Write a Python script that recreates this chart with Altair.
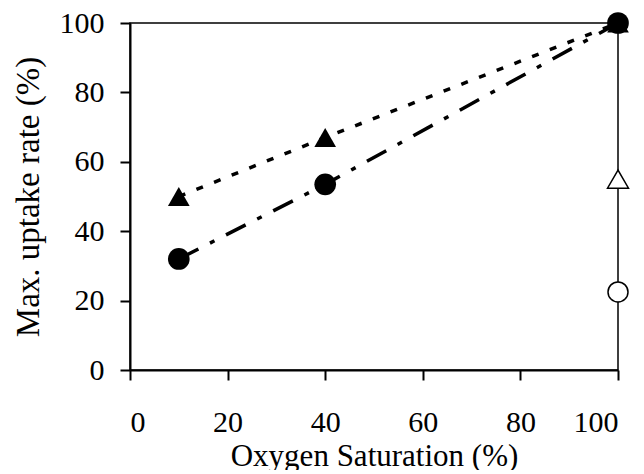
import altair as alt
import pandas as pd

# Data
oxygen = [10, 40, 100]
filled_triangle = [50, 67, 100]
filled_circle = [32, 53.5, 100]
open_oxygen = [100]
open_triangle = [55]
open_circle = [22.5]
x_ticks = [0, 20, 40, 60, 80, 100]
y_ticks = [0, 20, 40, 60, 80, 100]

rows = []
for x, y in zip(oxygen, filled_triangle):
    rows.append({"series": "tri", "x": x, "y": y})
for x, y in zip(oxygen, filled_circle):
    rows.append({"series": "circ", "x": x, "y": y})
for x, y in zip(open_oxygen, open_triangle):
    rows.append({"series": "otri", "x": x, "y": y})
for x, y in zip(open_oxygen, open_circle):
    rows.append({"series": "ocirc", "x": x, "y": y})
df = pd.DataFrame(rows)

FONT = "Liberation Serif"

x_enc = alt.X(
    "x:Q",
    scale=alt.Scale(domain=[0, 100], nice=False, zero=False),
    axis=alt.Axis(
        values=x_ticks,
        title="Oxygen Saturation (%)",
        tickSize=10,
        labelPadding=27,
        titlePadding=4,
        labelFontSize=30,
        titleFontSize=31,
    ),
)
y_enc = alt.Y(
    "y:Q",
    scale=alt.Scale(domain=[0, 100], nice=False, zero=False),
    axis=alt.Axis(
        values=y_ticks,
        title="Max. uptake rate (%)",
        tickSize=10,
        labelPadding=16,
        titlePadding=14,
        labelFontSize=30,
        titleFontSize=33,
    ),
)

base = alt.Chart(df).encode(x=x_enc, y=y_enc)

tri_line = base.transform_filter(alt.datum.series == "tri").mark_line(
    color="black", strokeWidth=3.5, strokeDash=[7, 12]
)
circ_line = base.transform_filter(alt.datum.series == "circ").mark_line(
    color="black", strokeWidth=3.5, strokeDash=[22, 13, 5, 13]
)
tri_pts = base.transform_filter(alt.datum.series == "tri").mark_point(
    shape="triangle-up", filled=True, color="black", size=470, opacity=1
)
circ_pts = base.transform_filter(alt.datum.series == "circ").mark_point(
    shape="circle", filled=True, color="black", size=470, opacity=1
)
otri_pts = base.transform_filter(alt.datum.series == "otri").mark_point(
    shape="triangle-up", fill="white", stroke="black", strokeWidth=1.5,
    size=440, opacity=1, fillOpacity=1
)
ocirc_pts = base.transform_filter(alt.datum.series == "ocirc").mark_point(
    shape="circle", fill="white", stroke="black", strokeWidth=1.5,
    size=400, opacity=1, fillOpacity=1
)

chart = (
    alt.layer(tri_line, circ_line, tri_pts, circ_pts, otri_pts, ocirc_pts)
    .properties(
        width=488,
        height=347,
        autosize=alt.AutoSizeParams(type="none"),
        padding={"left": 122, "top": 15, "right": 12, "bottom": 100},
        background="white",
    )
    .configure_view(stroke="black", strokeWidth=1.5)
    .configure_axis(
        grid=False,
        domainColor="black",
        domainWidth=2,
        tickColor="black",
        tickWidth=2,
        labelFont=FONT,
        titleFont=FONT,
        labelColor="black",
        titleColor="black",
        titleFontWeight="normal",
    )
)

chart.save("out.html", embed_options={"renderer": "svg", "actions": False})
